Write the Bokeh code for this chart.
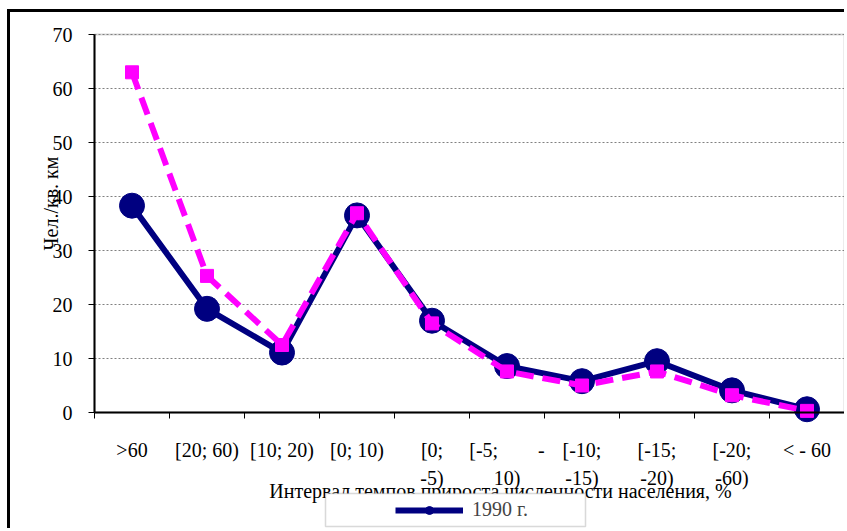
import math
from bokeh.plotting import figure
from bokeh.models import (ColumnDataSource, FixedTicker, Legend, LegendItem, Range1d,
                          Label, BoxAnnotation)
from bokeh.embed import file_html
from bokeh.resources import INLINE

# ---- data ----
NB = "\u00a0"
categories = [">60", "[20; 60)", "[10; 20)", "[0; 10)", "[0;\n-5)",
              "[-5;" + NB * 8 + "-\n10)", "[-10;\n-15)", "[-15;\n-20)", "[-20;\n-60)", "< - 60"]
series_1990 = [38.3, 19.2, 11.1, 36.5, 17.0, 8.6, 5.8, 9.5, 4.1, 0.6]
series_other = [63.0, 25.3, 12.5, 36.9, 16.5, 7.6, 5.0, 7.6, 3.2, 0.3]
y_ticks = [0, 10, 20, 30, 40, 50, 60, 70]
legend_label = "1990 г."
x_title = "Интервал темпов прироста численности населения, %"
y_title = "Чел./кв. км"

FONT = "Liberation Serif"
FS = "20px"
n = len(categories)
ymax = y_ticks[-1]
xs = [i + 0.5 for i in range(n)]

# ---- layout geometry (canvas pixels) ----
W, H = 837, 519
PL, PR, PT, PB = 84, 834, 22, 400  # plot area inside the canvas
sx = (PR - PL) / n
sy = (PB - PT) / ymax
x_range = Range1d(-PL / sx, n + (W - PR) / sx)
y_range = Range1d(-(H - PB) / sy, ymax + PT / sy)

src = ColumnDataSource(dict(x=xs, a=series_1990, b=series_other))
grid_src = ColumnDataSource(dict(y=y_ticks[1:], x0=[0] * (len(y_ticks) - 1),
                                 x1=[n] * (len(y_ticks) - 1)))

p = figure(width=W, height=H, output_backend="svg", toolbar_location=None,
           x_range=x_range, y_range=y_range,
           min_border_left=0, min_border_right=0, min_border_top=0,
           min_border_bottom=0)
p.styles = {"margin-left": "7px", "margin-top": "9px",
            "border-left": "3px solid black", "border-top": "3px solid black"}
p.outline_line_color = None
p.xgrid.grid_line_color = None
p.ygrid.grid_line_color = None

# plot-area frame (gray) and grid
p.add_layout(BoxAnnotation(left=0, right=n, bottom=0, top=ymax, fill_alpha=0,
                           line_color="#808080", line_width=2, level="underlay"))
p.segment(x0="x0", x1="x1", y0="y", y1="y", source=grid_src, line_color="#808080",
          line_width=1, line_dash="2 2")

xa = p.xaxis[0]
xa.fixed_location = 0
xa.bounds = (0, n)
xa.ticker = FixedTicker(ticks=xs, minor_ticks=list(range(n + 1)))
xa.major_label_overrides = {x: c for x, c in zip(xs, categories)}
xa.major_tick_line_color = None
xa.major_tick_out = 0
xa.major_tick_in = 0
xa.minor_tick_line_color = "black"
xa.minor_tick_out = 6
xa.minor_tick_in = 0
xa.axis_line_color = "black"
xa.axis_line_width = 2
xa.major_label_standoff = 20
xa.major_label_text_font = FONT
xa.major_label_text_font_size = FS
xa.major_label_text_color = "black"
xa.major_label_text_line_height = 1.3

ya = p.yaxis[0]
ya.fixed_location = 0
ya.bounds = (0, ymax)
ya.ticker = FixedTicker(ticks=y_ticks, minor_ticks=[])
ya.major_tick_out = 6
ya.major_tick_in = 0
ya.major_tick_line_color = "black"
ya.axis_line_color = "black"
ya.axis_line_width = 2
ya.major_label_standoff = 16
ya.major_label_text_font = FONT
ya.major_label_text_font_size = FS
ya.major_label_text_color = "black"

l1 = p.line("x", "a", source=src, line_color="#000080", line_width=6)
s1 = p.scatter("x", "a", source=src, marker="circle", size=25, fill_color="#000080",
               line_color="#000080")
p.line("x", "b", source=src, line_color="#FF00FF", line_width=6, line_dash="18 9")
p.scatter("x", "b", source=src, marker="square", size=13, fill_color="#FF00FF",
          line_color="#FF00FF")

# titles (screen units = canvas, origin bottom-left)
p.add_layout(Label(x=40, y=H - 191, x_units="screen", y_units="screen", text=y_title,
                   angle=math.pi / 2, text_align="center", text_baseline="middle",
                   text_font=FONT, text_font_size=FS, text_color="black"))
p.add_layout(Label(x=490, y=H - 478, x_units="screen", y_units="screen", text=x_title,
                   text_align="center", text_baseline="middle",
                   text_font=FONT, text_font_size=FS, text_color="black"))

# legend box and legend
p.add_layout(BoxAnnotation(left=315, right=575, bottom=H - 514, top=H - 481,
                           left_units="screen", right_units="screen",
                           bottom_units="screen", top_units="screen",
                           fill_color="white", fill_alpha=1,
                           line_color="#808080", line_width=1.5))
leg = Legend(items=[LegendItem(label=legend_label, renderers=[l1, s1])],
             location=(385, H - 509), padding=0, margin=0, glyph_width=68,
             glyph_height=20, label_height=20, label_standoff=9,
             border_line_alpha=0, background_fill_alpha=0,
             label_text_font=FONT, label_text_font_size=FS)
p.add_layout(leg, "center")

open("out.html", "w").write(file_html(p, INLINE))
